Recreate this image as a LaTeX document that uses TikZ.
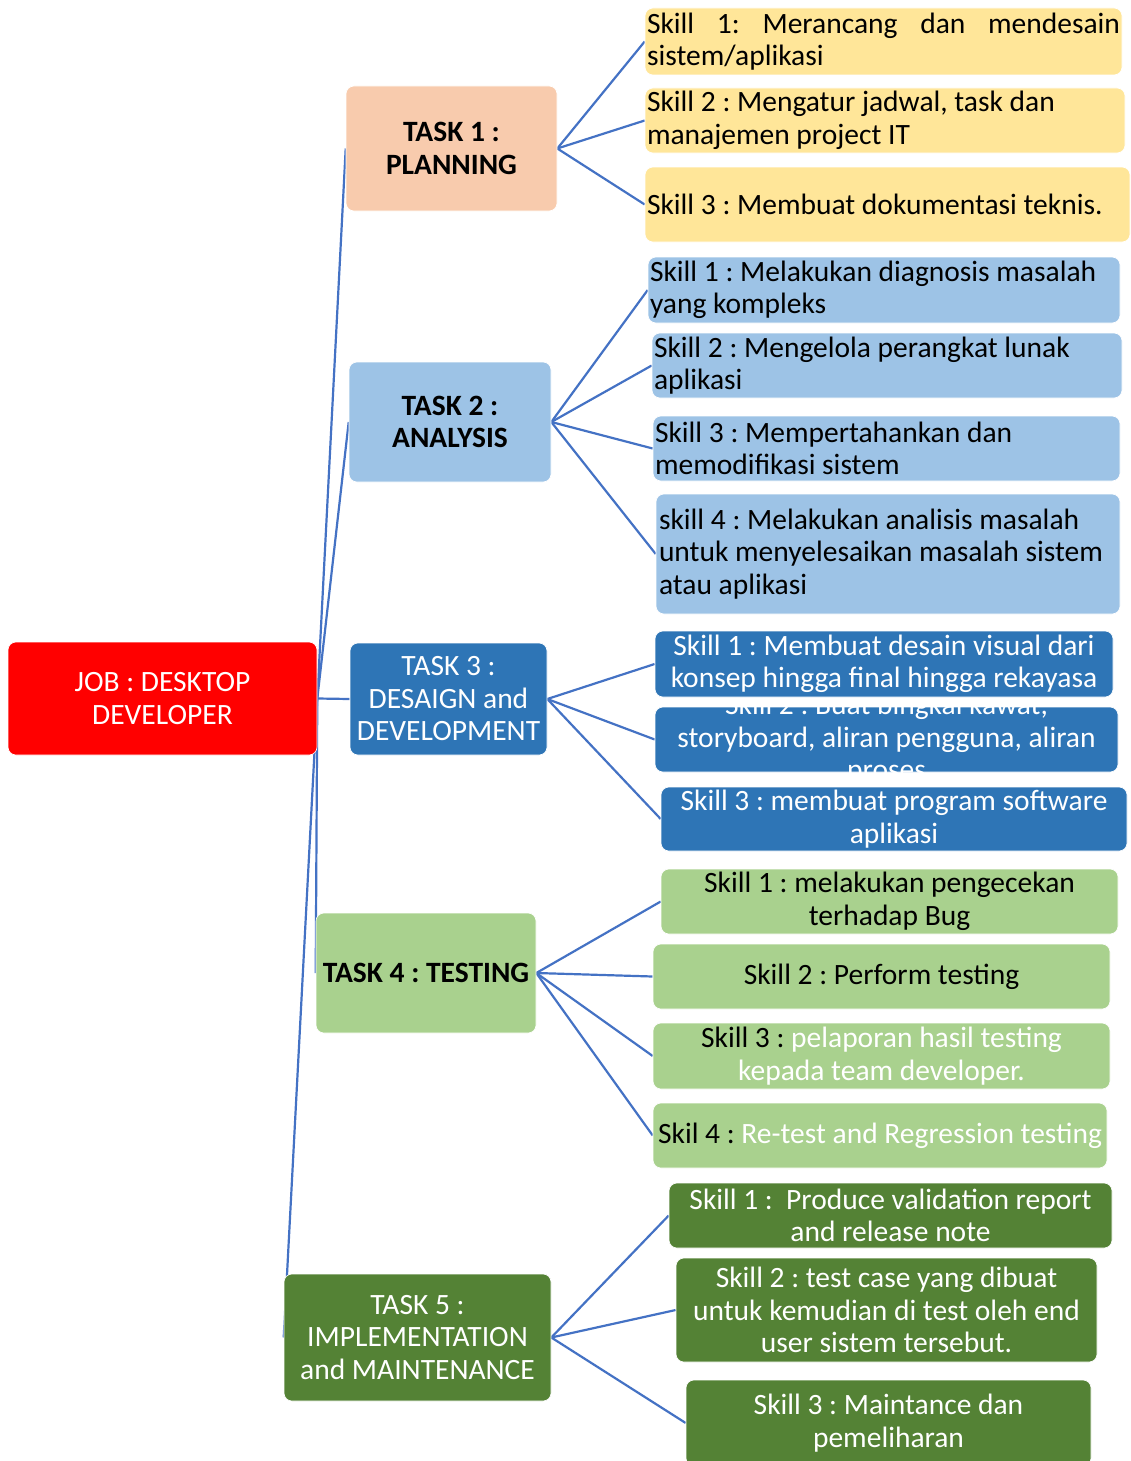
\documentclass[tikz,border=0pt]{standalone}
\usepackage{fontspec}
\setmainfont{Carlito}
\usetikzlibrary{backgrounds}

\definecolor{jobred}{HTML}{FF0000}
\definecolor{peach}{HTML}{F8CBAD}
\definecolor{sand}{HTML}{FFE699}
\definecolor{skyblue}{HTML}{9DC3E6}
\definecolor{midblue}{HTML}{2E75B6}
\definecolor{leaf}{HTML}{A9D18E}
\definecolor{forest}{HTML}{548235}
\definecolor{linkblue}{HTML}{4472C4}

\newcommand{\boxfont}{\fontsize{29.5}{32.5}\selectfont\frenchspacing}

\tikzset{
  box/.style={draw=white, line width=0.6pt, rounded corners=8pt, inner xsep=2pt, inner ysep=0pt, font=\boxfont, align=center},
  skilltxt/.style={align=flush left, text width=#1},
  link/.style={draw=linkblue, line width=2.2pt},
}

\begin{document}
\begin{tikzpicture}[x=1pt, y=-1pt]
  \useasboundingbox (0,0) rectangle (1130,1461);

  % Job
  \node[box, fill=jobred, text=white, minimum width=309pt, minimum height=113pt] (job) at (162.5,698.5) {JOB : DESKTOP\\DEVELOPER};

  % Tasks
  \node[box, fill=peach, font=\boxfont\bfseries, minimum width=211pt, minimum height=125pt] (task1) at (451.5,148.5) {TASK 1 :\\PLANNING};
  \node[box, fill=skyblue, font=\boxfont\bfseries, minimum width=202pt, minimum height=120pt] (task2) at (450,422) {TASK 2 :\\ANALYSIS};
  \node[box, fill=midblue, text=white, minimum width=197pt, minimum height=112pt] (task3) at (448.5,699) {TASK 3 :\\DESAIGN and\\DEVELOPMENT};
  \node[box, fill=leaf, font=\boxfont\bfseries, minimum width=220pt, minimum height=120pt] (task4) at (426,973) {TASK 4 : TESTING};
  \node[box, fill=forest, text=white, minimum width=267pt, minimum height=127pt] (task5) at (417.5,1337.5) {TASK 5 :\\IMPLEMENTATION\\and MAINTENANCE};

  % Skills of task 1
  \node[box, fill=sand, skilltxt=473pt, minimum height=67pt] (plan1) at (883.5,41.5) {\makebox[473pt][s]{Skill 1: Merancang dan mendesain}\\sistem/aplikasi};
  \node[box, fill=sand, skilltxt=476pt, minimum height=65pt] (plan2) at (885,120.5) {Skill 2 : Mengatur jadwal, task dan\\manajemen project IT};
  \node[box, fill=sand, skilltxt=481pt, minimum height=75pt] (plan3) at (887.5,204.5) {Skill 3 : Membuat dokumentasi teknis.};

  % Skills of task 2
  \node[box, fill=skyblue, skilltxt=468pt, minimum height=66pt] (ana1) at (884,290) {Skill 1 : Melakukan diagnosis masalah\\yang kompleks};
  \node[box, fill=skyblue, skilltxt=466pt, minimum height=65pt] (ana2) at (887,365.5) {Skill 2 : Mengelola perangkat lunak\\aplikasi};
  \node[box, fill=skyblue, skilltxt=463pt, minimum height=65pt] (ana3) at (886.5,448.5) {Skill 3 : Mempertahankan dan\\memodifikasi sistem};
  \node[box, fill=skyblue, skilltxt=458pt, inner xsep=3pt, minimum height=120pt] (ana4) at (888,554) {skill 4 : Melakukan analisis masalah\\untuk menyelesaikan masalah sistem\\atau aplikasi};

  % Skills of task 3 (text of skill 2 runs over its box)
  \node[box, fill=midblue, minimum width=463pt, minimum height=65pt,
        label={[font=\boxfont, align=center, text=white]center:Skill 2 : Buat bingkai kawat,\\storyboard, aliran pengguna, aliran\\proses}] (dev2) at (886.5,739.5) {};
  \node[box, fill=midblue, text=white, minimum width=458pt, minimum height=66pt] (dev1) at (884,664) {Skill 1 : Membuat desain visual dari\\konsep hingga final hingga rekayasa};
  \node[box, fill=midblue, text=white, minimum width=466pt, minimum height=64pt] (dev3) at (894,819) {Skill 3 : membuat program software\\aplikasi};

  % Skills of task 4
  \node[box, fill=leaf, minimum width=457pt, minimum height=65pt] (test1) at (889.5,901.5) {Skill 1 : melakukan pengecekan\\terhadap Bug};
  \node[box, fill=leaf, minimum width=457pt, minimum height=65pt] (test2) at (881.5,976.5) {Skill 2 : Perform testing};
  \node[box, fill=leaf, minimum width=457pt, minimum height=66pt] (test3) at (881.5,1056) {Skill 3 : \textcolor{white}{pelaporan hasil testing}\\\textcolor{white}{kepada team developer.}};
  \node[box, fill=leaf, minimum width=454pt, minimum height=65pt] (test4) at (880,1135.5) {Skil 4 : \textcolor{white}{Re-test and Regression testing}};

  % Skills of task 5
  \node[box, fill=forest, text=white, minimum width=443pt, minimum height=65pt] (impl1) at (890.5,1215.5) {Skill 1 :~ Produce validation report\\and release note};
  \node[box, fill=forest, text=white, minimum width=421pt, minimum height=104pt] (impl2) at (886.5,1310) {Skill 2 : test case yang dibuat\\untuk kemudian di test oleh end\\user sistem tersebut.};
  \node[box, fill=forest, text=white, minimum width=405pt, minimum height=86pt] (impl3) at (888.5,1423) {Skill 3 : Maintance dan\\pemeliharan};

  % Connectors
  \begin{scope}[on background layer]
    \draw[link] (job.east) -- (task1.west);
    \draw[link] (job.east) -- (task2.west);
    \draw[link] (job.east) -- (task3.west);
    \draw[link] (job.east) -- (task4.west);
    \draw[link] (job.east) -- (task5.west);

    \draw[link] (task1.east) -- (plan1.west);
    \draw[link] (task1.east) -- (plan2.west);
    \draw[link] (task1.east) -- (plan3.west);

    \draw[link] (task2.east) -- (ana1.west);
    \draw[link] (task2.east) -- (ana2.west);
    \draw[link] (task2.east) -- (ana3.west);
    \draw[link] (task2.east) -- (ana4.west);

    \draw[link] (task3.east) -- (dev1.west);
    \draw[link] (task3.east) -- (dev2.west);
    \draw[link] (task3.east) -- (dev3.west);

    \draw[link] (task4.east) -- (test1.west);
    \draw[link] (task4.east) -- (test2.west);
    \draw[link] (task4.east) -- (test3.west);
    \draw[link] (task4.east) -- (test4.west);

    \draw[link] (task5.east) -- (impl1.west);
    \draw[link] (task5.east) -- (impl2.west);
    \draw[link] (task5.east) -- (impl3.west);
  \end{scope}
\end{tikzpicture}
\end{document}
